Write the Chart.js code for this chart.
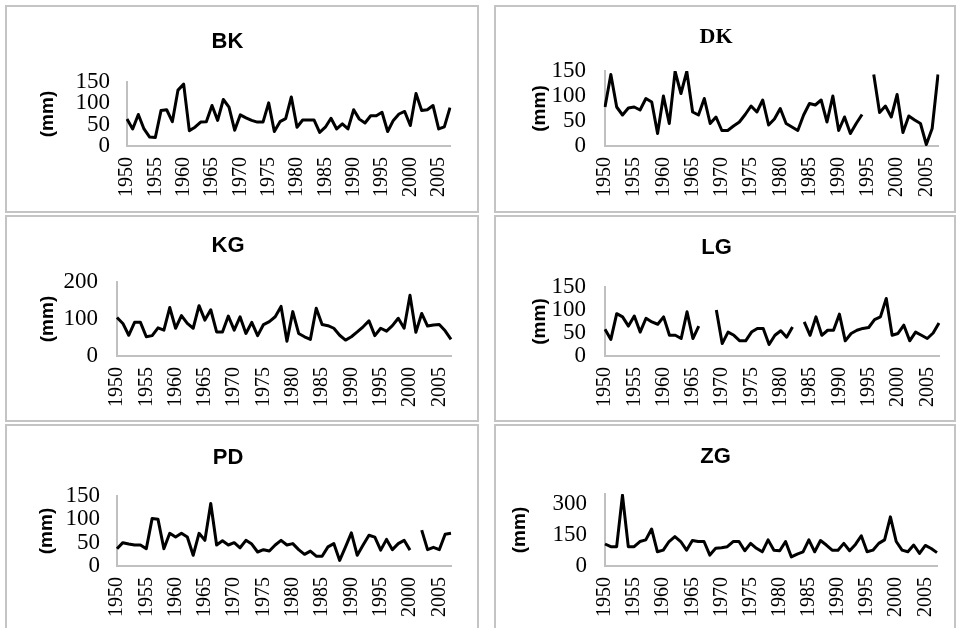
<!DOCTYPE html>
<html><head><meta charset="utf-8">
<script src="https://cdn.jsdelivr.net/npm/chart.js@4.4.1/dist/chart.umd.min.js"></script>
<style>
html,body{margin:0;padding:0;background:#fff;overflow:hidden;width:956px;height:628px;}
.frame{position:absolute;border:2px solid #c4c4c4;box-sizing:border-box;}
canvas{position:absolute;}
</style></head><body>
<div class="frame" style="left:5px;top:5px;width:474px;height:208px"></div>
<div class="frame" style="left:494px;top:5px;width:462px;height:208px"></div>
<div class="frame" style="left:5px;top:215px;width:474px;height:207px"></div>
<div class="frame" style="left:494px;top:215px;width:462px;height:207px"></div>
<div class="frame" style="left:5px;top:424px;width:474px;height:220px"></div>
<div class="frame" style="left:494px;top:424px;width:462px;height:220px"></div>
<canvas id="cBK" width="472" height="206" style="left:5px;top:6px"></canvas>
<canvas id="cDK" width="461" height="206" style="left:494px;top:6px"></canvas>
<canvas id="cKG" width="472" height="206" style="left:5px;top:215px"></canvas>
<canvas id="cLG" width="461" height="206" style="left:494px;top:215px"></canvas>
<canvas id="cPD" width="472" height="203" style="left:5px;top:425px"></canvas>
<canvas id="cZG" width="461" height="203" style="left:494px;top:425px"></canvas>
<script>
const years = ['1950','1951','1952','1953','1954','1955','1956','1957','1958','1959',
  '1960','1961','1962','1963','1964','1965','1966','1967','1968','1969',
  '1970','1971','1972','1973','1974','1975','1976','1977','1978','1979',
  '1980','1981','1982','1983','1984','1985','1986','1987','1988','1989',
  '1990','1991','1992','1993','1994','1995','1996','1997','1998','1999',
  '2000','2001','2002','2003','2004','2005','2006','2007'];
const yearTicks = ['1950','1955','1960','1965','1970','1975','1980','1985','1990','1995','2000','2005'];

const BK = [63,40,74,40,21,20,83,85,57,131,
  145,36,44,56,57,95,60,109,91,37,
  73,66,60,56,56,101,34,57,64,115,
  44,61,61,61,32,44,65,40,52,40,
  85,63,54,71,71,79,34,60,75,81,
  48,123,83,85,95,40,45,90];
const DK = [78,143,78,62,76,78,72,95,88,25,
  100,45,149,105,149,68,62,95,45,58,
  31,31,40,48,63,80,68,92,42,54,
  75,45,38,31,62,85,82,92,48,100,
  31,58,25,45,63,null,143,67,80,58,
  103,27,60,52,45,3,35,143];
const KG = [104,88,56,91,91,52,55,76,70,131,
  75,109,88,75,136,97,125,65,65,108,
  70,106,61,91,55,85,93,106,134,40,
  120,61,52,45,129,85,82,75,56,43,
  52,65,79,95,55,75,67,82,102,75,
  164,64,115,81,84,85,68,45];
const LG = [58,36,92,85,65,87,52,82,74,69,
  85,45,45,38,96,38,65,null,null,100,
  27,52,45,33,33,52,60,60,25,45,
  55,41,63,null,74,45,85,45,56,56,
  91,33,49,56,60,62,79,85,125,45,
  49,67,33,52,45,38,50,72];
const PD = [37,50,47,45,45,37,102,100,37,70,
  62,70,62,23,70,55,134,45,54,45,
  50,39,55,47,30,35,32,45,55,45,
  48,35,25,32,21,21,41,48,12,41,
  71,23,45,66,62,34,57,35,48,55,
  34,null,77,35,40,35,68,70];
const ZG = [107,94,94,344,94,94,119,127,180,69,
  77,119,143,119,77,124,119,119,53,86,
  89,94,119,119,74,110,86,69,127,77,
  74,119,44,58,69,127,69,124,102,77,
  77,110,74,105,147,69,77,110,127,239,
  119,77,69,102,61,100,85,65];

const ticks150 = [0,50,100,150];
const ticks200 = [0,100,200];
const ticks300 = [0,150,300];

const SANS = "'Liberation Sans', Arial, sans-serif";
const SERIF = "'Liberation Serif', 'Times New Roman', serif";

function build(id, title, titleFamily, data, yMax, yTicks, g) {
  const tSize = 22, tLH = tSize * 1.2;
  const pt = g.titleY - tLH / 2;
  const pb = g.top - pt - tLH;
  const mmSize = 19, mmLH = mmSize * 1.2;
  const axisBorder = {display: true, color: '#c0c0c0', width: 2};
  new Chart(document.getElementById(id), {
    type: 'line',
    data: {labels: years, datasets: [{data: data, borderColor: '#000', borderWidth: 3,
      pointRadius: 0, tension: 0, spanGaps: false, fill: false, borderJoinStyle: 'round'}]},
    options: {
      responsive: false, animation: false, events: [],
      layout: {padding: {left: 0, top: 0, bottom: 0, right: g.W - g.right}},
      plugins: {
        legend: {display: false}, tooltip: {enabled: false},
        title: {display: true, text: title, color: '#000',
          font: {family: titleFamily, size: tSize, weight: 'bold', lineHeight: 1.2},
          padding: {top: pt, bottom: pb}}
      },
      scales: {
        x: {
          type: 'category', offset: false,
          grid: {display: false, drawTicks: false}, border: axisBorder,
          ticks: {autoSkip: false, minRotation: 90, maxRotation: 90, padding: 11, color: '#000',
            font: {family: SERIF, size: 20},
            callback: (v, i) => yearTicks.includes(years[i]) ? years[i] : ''},
          afterFit: s => { s.height = g.H - g.bottom; s.paddingLeft = 0; s.paddingRight = 0; }
        },
        y: {
          min: 0, max: yMax,
          grid: {display: false, drawTicks: false}, border: axisBorder,
          ticks: {autoSkip: false, padding: g.yPad, color: '#000', font: {family: SERIF, size: 23}},
          afterBuildTicks: s => { s.ticks = yTicks.map(v => ({value: v})); },
          afterFit: s => { s.width = g.left; s.paddingTop = 0; s.paddingBottom = 0; },
          title: {display: true, text: '(mm)', color: '#000',
            font: {family: SANS, size: mmSize, weight: 'bold', lineHeight: 1.2},
            padding: {top: g.mmX - mmLH / 2, bottom: 0}}
        }
      }
    }
  });
}

build('cBK', 'BK', SANS, BK, 150, ticks150, {W:472,H:206,left:122,right:445,top:76,bottom:140,titleY:36,mmX:43,yPad:17});
build('cDK', 'DK', SERIF, DK, 150, ticks150, {W:461,H:206,left:111,right:444,top:65,bottom:140,titleY:31,mmX:46,yPad:19});
build('cKG', 'KG', SANS, KG, 200, ticks200, {W:472,H:206,left:112,right:446,top:67,bottom:141,titleY:31,mmX:43,yPad:19});
build('cLG', 'LG', SANS, LG, 150, ticks150, {W:461,H:206,left:111,right:445,top:72,bottom:141,titleY:33,mmX:46,yPad:19});
build('cPD', 'PD', SANS, PD, 150, ticks150, {W:472,H:203,left:112,right:446,top:71,bottom:141,titleY:33,mmX:42,yPad:17});
build('cZG', 'ZG', SANS, ZG, 350, ticks300, {W:461,H:203,left:111,right:443,top:69,bottom:141,titleY:32,mmX:26,yPad:18});
</script>
</body></html>
